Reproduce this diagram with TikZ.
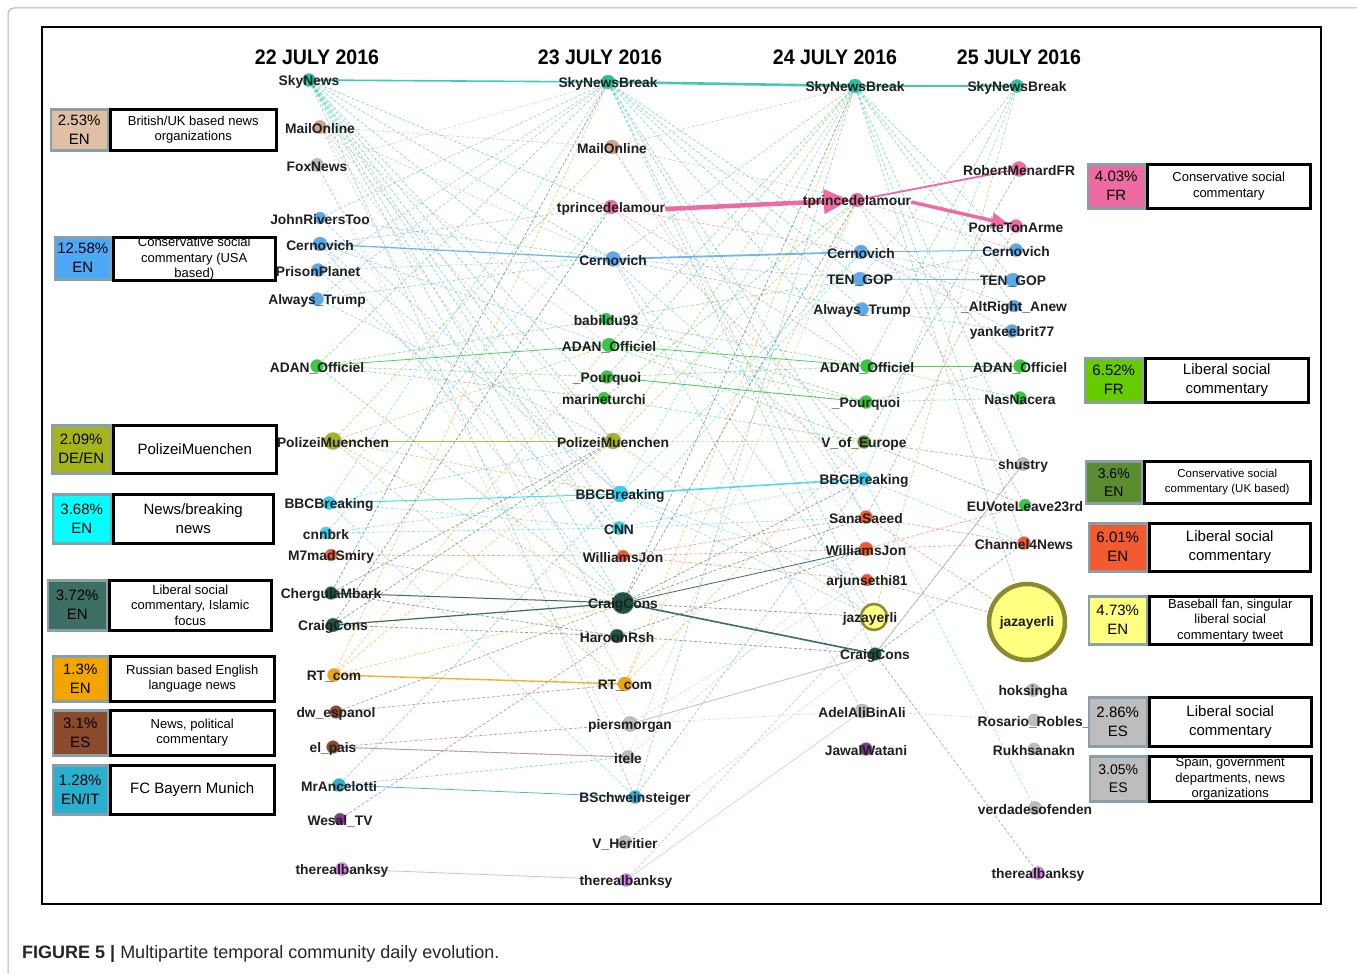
\documentclass[tikz,border=0pt]{standalone}
\usepackage{fontspec}
\setmainfont{Liberation Sans}
\usetikzlibrary{arrows.meta}

\pgfdeclarelayer{bg}
\pgfdeclarelayer{mid}
\pgfsetlayers{bg,mid,main}

% community colours
\definecolor{cTeal}{HTML}{22C2A2}
\definecolor{cTan}{HTML}{CFA58C}
\definecolor{cTanL}{HTML}{E0C0A2}
\definecolor{cPink}{HTML}{EE6AA2}
\definecolor{cBlue}{HTML}{58AAEE}
\definecolor{cBlueL}{HTML}{4DA8F5}
\definecolor{cGreen}{HTML}{30CC3C}
\definecolor{cGreenL}{HTML}{66CC00}
\definecolor{cOlive}{HTML}{A6B41C}
\definecolor{cCyan}{HTML}{30D4F2}
\definecolor{cCyanL}{HTML}{00FFFF}
\definecolor{cDark}{HTML}{1B5446}
\definecolor{cDarkL}{HTML}{3C6E64}
\definecolor{cOrange}{HTML}{F2A400}
\definecolor{cBrown}{HTML}{8B4A2B}
\definecolor{cBayern}{HTML}{28B0D0}
\definecolor{cPurple}{HTML}{7D3C8C}
\definecolor{cViolet}{HTML}{D67DE4}
\definecolor{cGray}{HTML}{BDBDBD}
\definecolor{cRed}{HTML}{F25A30}
\definecolor{cMoss}{HTML}{5B8C2F}
\definecolor{cYellow}{HTML}{FFFF80}
\definecolor{cYellowEdge}{HTML}{8C8A30}
\definecolor{cFrame}{HTML}{8AA0A8}

% one user: name, x, y, colour, size, handle
\newcommand\usr[6]{%
  \node[dot, fill=#4, minimum size=#5] (#1) at (#2,#3) {};
  \node[handle] (#1-l) at (#2,#3+2) {#6};}

\begin{document}
\begin{tikzpicture}[x=1pt, y=-1pt,
    dot/.style={circle, inner sep=0pt, draw=black!35, line width=0.4pt},
    handle/.style={font=\bfseries\fontsize{13.8}{16}\selectfont, text=black!88, inner sep=0pt},
    day/.style={font=\bfseries\fontsize{21}{24}\selectfont, xscale=0.93, transform shape, inner sep=0pt},
    link/.style={dashed, dash pattern=on 3pt off 2pt, line width=0.7pt, opacity=0.55},
    tie/.style={line width=1.3pt, opacity=0.85},
    descbox/.style={draw=black, line width=2.5pt, fill=white, inner sep=0pt, align=center,
      font=\fontsize{13}{15.5}\selectfont},
    descbig/.style={font=\fontsize{15}{19}\selectfont},
    pctbox/.style={draw=cFrame, line width=2.5pt, inner sep=0pt, align=center,
      font=\fontsize{15}{19}\selectfont}]

    \useasboundingbox (0,0) rectangle (1357,974);

    % outer figure frame and panel frame
    \draw[black!30, line width=1pt, rounded corners=6pt] (8,990) -- (8,8) -- (1370,8);
    \draw[black, line width=2pt] (42,27) rectangle (1321,904);

    % day headings
    \node[day] (d22) at (317,57) {22 JULY 2016};
    \node[day] (d23) at (600,57) {23 JULY 2016};
    \node[day] (d24) at (835,57) {24 JULY 2016};
    \node[day] (d25) at (1019,57) {25 JULY 2016};

    % 22 July
    \usr{a-SkyNews}{309}{80}{cTeal}{13}{SkyNews}
    \usr{a-MailOnline}{320}{127}{cTan}{13}{MailOnline}
    \usr{a-FoxNews}{317}{165}{cGray}{13}{FoxNews}
    \usr{a-JohnRivers}{320}{218}{cBlue}{12}{JohnRiversToo}
    \usr{a-Cernovich}{320}{244}{cBlue}{14}{Cernovich}
    \usr{a-PrisonPlanet}{318}{270}{cBlue}{13}{PrisonPlanet}
    \usr{a-AlwaysTrump}{317}{299}{cBlue}{13}{Always\_Trump}
    \usr{a-ADAN}{317}{366}{cGreen}{13}{ADAN\_Officiel}
    \usr{a-Polizei}{333}{441}{cOlive}{17}{PolizeiMuenchen}
    \usr{a-BBC}{329}{503}{cCyan}{13}{BBCBreaking}
    \usr{a-cnnbrk}{326}{533}{cCyan}{12}{cnnbrk}
    \usr{a-M7mad}{331}{555}{cRed}{12}{M7madSmiry}
    \usr{a-Chergula}{331}{593}{cDark}{13}{ChergulaMbark}
    \usr{a-Craig}{333}{625}{cDark}{14}{CraigCons}
    \usr{a-RT}{334}{675}{cOrange}{13}{RT\_com}
    \usr{a-dw}{336}{712}{cBrown}{13}{dw\_espanol}
    \usr{a-elpais}{333}{747}{cBrown}{13}{el\_pais}
    \usr{a-Ancelotti}{339}{785}{cBayern}{13}{MrAncelotti}
    \usr{a-Wesal}{340}{819}{cPurple}{12}{Wesal\_TV}
    \usr{a-banksy}{342}{869}{cViolet}{13}{therealbanksy}

    % 23 July
    \usr{b-SkyNewsBreak}{608}{82}{cTeal}{14}{SkyNewsBreak}
    \usr{b-MailOnline}{612}{147}{cTan}{14}{MailOnline}
    \usr{b-tprince}{611}{207}{cPink}{14}{tprincedelamour}
    \usr{b-Cernovich}{613}{259}{cBlue}{15}{Cernovich}
    \usr{b-babildu}{606}{319}{cGreen}{12}{babildu93}
    \usr{b-ADAN}{609}{345}{cGreen}{14}{ADAN\_Officiel}
    \usr{b-Pourquoi}{607}{377}{cGreen}{13}{\_Pourquoi}
    \usr{b-marine}{604}{398}{cGreen}{12}{marineturchi}
    \usr{b-Polizei}{613}{441}{cOlive}{16}{PolizeiMuenchen}
    \usr{b-BBC}{620}{494}{cCyan}{16}{BBCBreaking}
    \usr{b-CNN}{619}{528}{cCyan}{13}{CNN}
    \usr{b-Williams}{623}{556}{cRed}{12}{WilliamsJon}
    \usr{b-Craig}{623}{603}{cDark}{22}{CraigCons}
    \usr{b-Haroon}{617}{636}{cDark}{14}{HaroonRsh}
    \usr{b-RT}{625}{684}{cOrange}{14}{RT\_com}
    \usr{b-piers}{630}{724}{cGray}{15}{piersmorgan}
    \usr{b-itele}{628}{757}{cGray}{13}{itele}
    \usr{b-Schwein}{635}{797}{cBayern}{13}{BSchweinsteiger}
    \usr{b-Heritier}{625}{842}{cGray}{13}{V\_Heritier}
    \usr{b-banksy}{626}{880}{cViolet}{13}{therealbanksy}

    % 24 July
    \usr{c-SkyNewsBreak}{855}{86}{cTeal}{14}{SkyNewsBreak}
    \usr{c-tprince}{857}{200}{cPink}{14}{tprincedelamour}
    \usr{c-Cernovich}{861}{252}{cBlue}{14}{Cernovich}
    \usr{c-TENGOP}{860}{279}{cBlue}{14}{TEN\_GOP}
    \usr{c-AlwaysTrump}{862}{309}{cBlue}{13}{Always\_Trump}
    \usr{c-ADAN}{867}{366}{cGreen}{13}{ADAN\_Officiel}
    \usr{c-Pourquoi}{866}{402}{cGreen}{13}{\_Pourquoi}
    \usr{c-VofEurope}{864}{442}{cMoss}{13}{V\_of\_Europe}
    \usr{c-BBC}{864}{479}{cCyan}{13}{BBCBreaking}
    \usr{c-Sana}{866}{517}{cRed}{13}{SanaSaeed}
    \usr{c-Williams}{866}{549}{cRed}{14}{WilliamsJon}
    \usr{c-arjun}{867}{580}{cRed}{12}{arjunsethi81}
    \node[dot, fill=cYellow, draw=cYellowEdge, line width=2.5pt, minimum size=26] (c-jazayerli) at (874,617) {};
    \node[handle] (c-jazayerli-l) at (870,619) {jazayerli};
    \usr{c-Craig}{875}{654}{cDark}{13}{CraigCons}
    \usr{c-Adel}{862}{711}{cGray}{14}{AdelAliBinAli}
    \usr{c-Jawal}{866}{749}{cPurple}{13}{JawalWatani}

    % 25 July
    \usr{d-SkyNewsBreak}{1017}{86}{cTeal}{13}{SkyNewsBreak}
    \usr{d-Menard}{1019}{169}{cPink}{15}{RobertMenardFR}
    \usr{d-PorteTonArme}{1016}{226}{cPink}{13}{PorteTonArme}
    \usr{d-Cernovich}{1016}{250}{cBlue}{13}{Cernovich}
    \usr{d-TENGOP}{1013}{280}{cBlue}{14}{TEN\_GOP}
    \usr{d-AltRight}{1014}{306}{cBlue}{12}{\_AltRight\_Anew}
    \usr{d-yankee}{1012}{331}{cBlue}{13}{yankeebrit77}
    \usr{d-ADAN}{1020}{366}{cGreen}{13}{ADAN\_Officiel}
    \usr{d-Nacera}{1020}{398}{cGreen}{13}{NasNacera}
    \usr{d-shustry}{1023}{464}{cGray}{13}{shustry}
    \usr{d-EUVote}{1025}{505}{cGreen}{12}{EUVoteLeave23rd}
    \usr{d-Channel4}{1024}{543}{cRed}{13}{Channel4News}
    \node[dot, fill=cYellow, draw=cYellowEdge, line width=4.5pt, minimum size=76] (d-jazayerli) at (1027,622) {};
    \node[handle] (d-jazayerli-l) at (1027,623) {jazayerli};
    \usr{d-hoksingha}{1033}{690}{cGray}{13}{hoksingha}
    \usr{d-Rosario}{1034}{720}{cGray}{12}{Rosario\_Robles\_}
    \usr{d-Rukhsanakn}{1034}{749}{cGray}{12}{Rukhsanakn}
    \usr{d-verdades}{1035}{808}{cGray}{13}{verdadesofenden}
    \usr{d-banksy}{1038}{873}{cViolet}{13}{therealbanksy}

    \begin{pgfonlayer}{bg}
    \fill[white] (0,0) rectangle (1357,974);
    % 22 -> 23
    \foreach \t in {b-tprince,b-Cernovich,b-babildu,b-Polizei,b-BBC,b-CNN,b-Craig,b-Haroon,b-Williams,b-Schwein,b-marine}
      \draw[link, cTeal] (a-SkyNews) -- (\t);
    \foreach \t in {b-MailOnline,b-Cernovich,b-Polizei,b-Williams,b-RT,b-ADAN}
      \draw[link, cTan] (a-MailOnline) -- (\t);
    \foreach \t in {b-piers,b-itele,b-SkyNewsBreak}
      \draw[link, cGray] (a-FoxNews) -- (\t);
    \foreach \t in {b-SkyNewsBreak,b-Cernovich,b-BBC}
      \draw[link, cBlue] (a-JohnRivers) -- (\t);
    \foreach \t in {b-tprince,b-BBC,b-ADAN,b-Craig}
      \draw[link, cBlue] (a-Cernovich) -- (\t);
    \foreach \t in {b-Cernovich,b-CNN,b-SkyNewsBreak}
      \draw[link, cBlue] (a-PrisonPlanet) -- (\t);
    \foreach \t in {b-Cernovich,b-SkyNewsBreak,b-Polizei}
      \draw[link, cBlue] (a-AlwaysTrump) -- (\t);
    \foreach \t in {b-Pourquoi,b-marine,b-babildu,b-SkyNewsBreak,b-Craig}
      \draw[link, cGreen] (a-ADAN) -- (\t);
    \foreach \t in {b-BBC,b-Craig,b-RT,b-MailOnline,b-ADAN}
      \draw[link, cOlive] (a-Polizei) -- (\t);
    \foreach \t in {b-CNN,b-SkyNewsBreak,b-Schwein,b-Polizei}
      \draw[link, cCyan] (a-BBC) -- (\t);
    \foreach \t in {b-CNN,b-BBC,b-tprince}
      \draw[link, cCyan] (a-cnnbrk) -- (\t);
    \foreach \t in {b-Williams,b-Craig}
      \draw[link, cRed] (a-M7mad) -- (\t);
    \foreach \t in {b-Haroon,b-SkyNewsBreak,b-Polizei}
      \draw[link, cDark] (a-Chergula) -- (\t);
    \foreach \t in {b-Polizei,b-tprince,b-Haroon}
      \draw[link, cDark] (a-Craig) -- (\t);
    \foreach \t in {b-Polizei,b-ADAN,b-SkyNewsBreak,b-Craig}
      \draw[link, cOrange] (a-RT) -- (\t);
    \foreach \t in {b-RT,b-Craig}
      \draw[link, cBrown] (a-dw) -- (\t);
    \foreach \t in {b-piers,b-itele}
      \draw[link, cBrown] (a-elpais) -- (\t);
    \foreach \t in {b-BBC,b-itele}
      \draw[link, cBayern] (a-Ancelotti) -- (\t);
    \draw[link, cPurple] (a-Wesal) -- (b-Haroon);

    % 23 -> 24
    \foreach \t in {c-Cernovich,c-TENGOP,c-BBC,c-Sana,c-jazayerli,c-Craig,c-ADAN,c-AlwaysTrump}
      \draw[link, cTeal] (b-SkyNewsBreak) -- (\t);
    \foreach \t in {c-tprince,c-Williams,c-Sana,c-SkyNewsBreak}
      \draw[link, cTan] (b-MailOnline) -- (\t);
    \foreach \t in {c-Cernovich,c-VofEurope,c-ADAN}
      \draw[link, cPink] (b-tprince) -- (\t);
    \foreach \t in {c-TENGOP,c-AlwaysTrump,c-BBC,c-jazayerli,c-Adel,c-SkyNewsBreak}
      \draw[link, cBlue] (b-Cernovich) -- (\t);
    \foreach \t in {c-ADAN,c-Pourquoi,c-TENGOP}
      \draw[link, cGreen] (b-babildu) -- (\t);
    \foreach \t in {c-VofEurope,c-Pourquoi,c-SkyNewsBreak}
      \draw[link, cGreen] (b-ADAN) -- (\t);
    \foreach \t in {c-Pourquoi,c-SkyNewsBreak,c-ADAN}
      \draw[link, cGreen] (b-Pourquoi) -- (\t);
    \foreach \t in {c-VofEurope,c-tprince}
      \draw[link, cGreen] (b-marine) -- (\t);
    \foreach \t in {c-VofEurope,c-jazayerli,c-tprince,c-SkyNewsBreak}
      \draw[link, cOlive] (b-Polizei) -- (\t);
    \foreach \t in {c-SkyNewsBreak,c-arjun,c-jazayerli,c-Cernovich}
      \draw[link, cCyan] (b-BBC) -- (\t);
    \foreach \t in {c-BBC,c-Cernovich,c-Sana}
      \draw[link, cCyan] (b-CNN) -- (\t);
    \foreach \t in {c-Williams,c-Sana,c-arjun}
      \draw[link, cRed] (b-Williams) -- (\t);
    \foreach \t in {c-jazayerli,c-SkyNewsBreak,c-Sana,c-tprince,c-BBC}
      \draw[link, cDark] (b-Craig) -- (\t);
    \foreach \t in {c-Craig,c-Williams}
      \draw[link, cDark] (b-Haroon) -- (\t);
    \foreach \t in {c-VofEurope,c-tprince,c-SkyNewsBreak}
      \draw[link, cOrange] (b-RT) -- (\t);
    \foreach \t in {c-Adel,c-Craig,c-arjun}
      \draw[link, cGray] (b-piers) -- (\t);
    \foreach \t in {c-tprince,c-Williams}
      \draw[link, cGray] (b-itele) -- (\t);
    \foreach \t in {c-BBC,c-SkyNewsBreak}
      \draw[link, cBayern] (b-Schwein) -- (\t);
    \draw[link, cGray] (b-Heritier) -- (c-Craig);
    \draw[link, cViolet] (b-banksy) -- (c-jazayerli);

    % 24 -> 25
    \foreach \t in {d-Cernovich,d-TENGOP,d-shustry,d-Channel4,d-jazayerli,d-AltRight}
      \draw[link, cTeal] (c-SkyNewsBreak) -- (\t);
    \foreach \t in {d-ADAN,d-EUVote,d-Cernovich}
      \draw[link, cPink] (c-tprince) -- (\t);
    \foreach \t in {d-AltRight,d-yankee,d-TENGOP}
      \draw[link, cBlue] (c-Cernovich) -- (\t);
    \foreach \t in {d-TENGOP,d-Cernovich,d-SkyNewsBreak}
      \draw[link, cBlue] (c-TENGOP) -- (\t);
    \foreach \t in {d-yankee,d-AltRight}
      \draw[link, cBlue] (c-AlwaysTrump) -- (\t);
    \foreach \t in {d-Nacera,d-SkyNewsBreak}
      \draw[link, cGreen] (c-ADAN) -- (\t);
    \foreach \t in {d-Nacera,d-ADAN}
      \draw[link, cGreen] (c-Pourquoi) -- (\t);
    \foreach \t in {d-shustry,d-EUVote,d-Menard}
      \draw[link, cMoss] (c-VofEurope) -- (\t);
    \foreach \t in {d-SkyNewsBreak,d-Channel4,d-verdades}
      \draw[link, cCyan] (c-BBC) -- (\t);
    \foreach \t in {d-Channel4,d-jazayerli,d-PorteTonArme}
      \draw[link, cRed] (c-Sana) -- (\t);
    \foreach \t in {d-Channel4,d-EUVote}
      \draw[link, cRed] (c-Williams) -- (\t);
    \draw[link, cRed] (c-arjun) -- (d-jazayerli);
    \draw[link, cOlive] (c-jazayerli) -- (d-SkyNewsBreak);
    \foreach \t in {d-Channel4,d-shustry,d-banksy}
      \draw[link, black!60] (c-Craig) -- (\t);
    \draw[link, cGray] (c-Adel) -- (d-Rosario);

    % stable accounts from day to day
    \draw[tie, cTeal, line width=1.6pt] (a-SkyNews) -- (b-SkyNewsBreak);
    \draw[tie, cTeal, line width=2.6pt] (b-SkyNewsBreak) -- (c-SkyNewsBreak);
    \draw[tie, cTeal, line width=2pt] (c-SkyNewsBreak) -- (d-SkyNewsBreak);
    \draw[tie, cBlue] (a-Cernovich) -- (b-Cernovich);
    \draw[tie, cBlue, line width=1.8pt] (b-Cernovich) -- (c-Cernovich);
    \draw[tie, cBlue, line width=1pt] (c-Cernovich) -- (d-Cernovich);
    \draw[tie, cBlue, line width=0.8pt] (c-TENGOP) -- (d-TENGOP);
    \draw[tie, cGreen, line width=0.8pt] (a-ADAN) -- (b-ADAN);
    \draw[tie, cGreen, line width=0.8pt] (b-ADAN) -- (c-ADAN);
    \draw[tie, cGreen, line width=0.8pt] (c-ADAN) -- (d-ADAN);
    \draw[tie, cGreen, line width=0.8pt] (b-Pourquoi) -- (c-Pourquoi);
    \draw[tie, cOlive, line width=1pt] (a-Polizei) -- (b-Polizei);
    \draw[tie, cCyan, line width=1pt] (a-BBC) -- (b-BBC);
    \draw[tie, cCyan, line width=1.6pt] (b-BBC) -- (c-BBC);
    \draw[tie, cDark, line width=1pt] (a-Chergula) -- (b-Craig);
    \draw[tie, cDark, line width=1.2pt] (a-Craig) -- (b-Craig);
    \draw[tie, cDark, line width=1.6pt] (b-Craig) -- (c-Craig);
    \draw[tie, cDark, line width=0.8pt] (b-Craig) -- (c-Williams);
    \draw[tie, cOrange, line width=1.4pt] (a-RT) -- (b-RT);
    \draw[tie, cBayern, line width=0.8pt] (a-Ancelotti) -- (b-Schwein);
    \draw[tie, cBrown!60, line width=0.8pt] (a-elpais) -- (b-itele);
    \draw[tie, cViolet!70, line width=0.8pt] (a-banksy) -- (b-banksy);
    \draw[tie, cViolet!60, line width=0.6pt] (b-banksy) -- (c-Adel);
    \draw[tie, cGray, line width=0.8pt] (b-piers) -- (c-Craig);
    \draw[tie, cGray, line width=0.8pt] (c-Craig) -- (d-shustry);
    \end{pgfonlayer}

    % the retweet cascade, above the other links but below the handles
    \begin{pgfonlayer}{mid}
    \draw[cPink, line width=1.8pt] (c-tprince) -- (d-Menard);
    \draw[cPink, line width=4.5pt, -{Triangle[length=26pt,width=24pt]}] (b-tprince-l.east) -- (c-tprince);
    \draw[cPink, line width=3.5pt, -{Triangle[length=18pt,width=15pt]}] (c-tprince-l.east) -- (d-PorteTonArme);
    \end{pgfonlayer}

    % community legend, left
    \node[descbox, minimum width=166, minimum height=41, anchor=north west] (lgUK-d) at (109,108) {British/UK based news\\organizations};
    \node[pctbox, fill=cTanL, minimum width=57, minimum height=41, anchor=north east] (lgUK) at (lgUK-d.north west) {2.53\%\\EN};
    \node[descbox, minimum width=162, minimum height=42, anchor=north west] (lgUSA-d) at (112,236) {Conservative social\\commentary (USA\\based)};
    \node[pctbox, fill=cBlueL, minimum width=56, minimum height=42, anchor=north east] (lgUSA) at (lgUSA-d.north west) {12.58\%\\EN};
    \node[descbox, descbig, minimum width=163, minimum height=48, anchor=north west] (lgPol-d) at (112,424) {PolizeiMuenchen};
    \node[pctbox, fill=cOlive, minimum width=59, minimum height=48, anchor=north east] (lgPol) at (lgPol-d.north west) {2.09\%\\DE/EN};
    \node[descbox, descbig, minimum width=160, minimum height=49, anchor=north west] (lgNews-d) at (112,493) {News/breaking\\news};
    \node[pctbox, fill=cCyanL, minimum width=58, minimum height=49, anchor=north east] (lgNews) at (lgNews-d.north west) {3.68\%\\EN};
    \node[descbox, minimum width=162, minimum height=50, anchor=north west] (lgIsl-d) at (108,579) {Liberal social\\commentary, Islamic\\focus};
    \node[pctbox, fill=cDarkL, minimum width=59, minimum height=50, anchor=north east] (lgIsl) at (lgIsl-d.north west) {3.72\%\\EN};
    \node[descbox, minimum width=164, minimum height=45, anchor=north west] (lgRT-d) at (109,655) {Russian based English\\language news};
    \node[pctbox, fill=cOrange, minimum width=55, minimum height=45, anchor=north east] (lgRT) at (lgRT-d.north west) {1.3\%\\EN};
    \node[descbox, minimum width=164, minimum height=45, anchor=north west] (lgES-d) at (109,709) {News, political\\commentary};
    \node[pctbox, fill=cBrown, minimum width=55, minimum height=45, anchor=north east] (lgES) at (lgES-d.north west) {3.1\%\\ES};
    \node[descbox, descbig, minimum width=164, minimum height=49, anchor=north west] (lgFCB-d) at (109,764) {FC Bayern Munich};
    \node[pctbox, fill=cBayern, minimum width=55, minimum height=49, anchor=north east] (lgFCB) at (lgFCB-d.north west) {1.28\%\\EN/IT};

    % community legend, right
    \node[descbox, minimum width=163, minimum height=44, anchor=north west] (lgFRc-d) at (1146,163) {Conservative social\\commentary};
    \node[pctbox, fill=cPink, minimum width=57, minimum height=44, anchor=north east] (lgFRc) at (lgFRc-d.north west) {4.03\%\\FR};
    \node[descbox, descbig, minimum width=163, minimum height=44, anchor=north west] (lgFRl-d) at (1144,357) {Liberal social\\commentary};
    \node[pctbox, fill=cGreenL, minimum width=58, minimum height=44, anchor=north east] (lgFRl) at (lgFRl-d.north west) {6.52\%\\FR};
    \node[descbox, font=\fontsize{11.5}{15}\selectfont, minimum width=166, minimum height=42, anchor=north west] (lgUKc-d) at (1143,460) {Conservative social\\commentary (UK based)};
    \node[pctbox, fill=cMoss, font=\fontsize{14}{18}\selectfont, minimum width=56, minimum height=42, anchor=north east] (lgUKc) at (lgUKc-d.north west) {3.6\%\\EN};
    \node[descbox, descbig, minimum width=161, minimum height=48, anchor=north west] (lgENl-d) at (1148,522) {Liberal social\\commentary};
    \node[pctbox, fill=cRed, minimum width=58, minimum height=48, anchor=north east] (lgENl) at (lgENl-d.north west) {6.01\%\\EN};
    \node[descbox, minimum width=162, minimum height=48, anchor=north west] (lgBB-d) at (1148,595) {Baseball fan, singular\\liberal social\\commentary tweet};
    \node[pctbox, fill=cYellow, minimum width=58, minimum height=48, anchor=north east] (lgBB) at (lgBB-d.north west) {4.73\%\\EN};
    \node[descbox, descbig, minimum width=162, minimum height=49, anchor=north west] (lgESl-d) at (1148,696) {Liberal social\\commentary};
    \node[pctbox, fill=cGray, minimum width=58, minimum height=49, anchor=north east] (lgESl) at (lgESl-d.north west) {2.86\%\\ES};
    \node[descbox, minimum width=162, minimum height=45, anchor=north west] (lgESg-d) at (1148,755) {Spain, government\\departments, news\\organizations};
    \node[pctbox, fill=cGray, font=\fontsize{14}{18}\selectfont, minimum width=57, minimum height=45, anchor=north east] (lgESg) at (lgESg-d.north west) {3.05\%\\ES};

    % caption
    \node[anchor=west, inner sep=0pt, text=black!85, font=\fontsize{18}{21}\selectfont] (caption) at (22,954)
      {\textbf{FIGURE 5 \textbar} Multipartite temporal community daily evolution.};
\end{tikzpicture}
\end{document}
